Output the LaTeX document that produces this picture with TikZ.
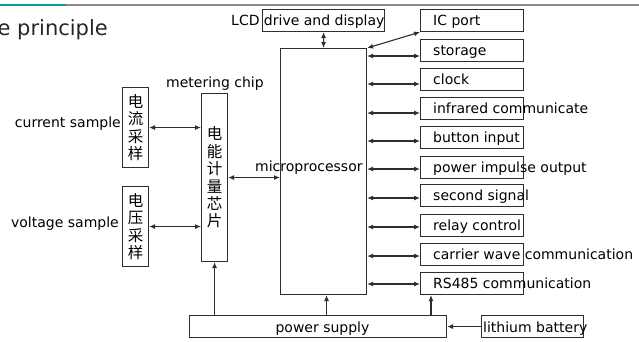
\documentclass[tikz,border=0pt]{standalone}
\usepackage{fontspec}
\setmainfont{DejaVu Sans}
\newfontfamily\cjk{Noto Sans CJK SC}
\usetikzlibrary{arrows.meta,calc}
\definecolor{tealtop}{HTML}{12988F}
\definecolor{graytop}{HTML}{8A8A8A}
\definecolor{ink}{HTML}{2E2E2E}
\begin{document}
\begin{tikzpicture}[x=1bp,y=-1bp,
  box/.style={draw=ink, line width=1.1bp, inner sep=0pt, rectangle, anchor=north west},
  txt/.style={inner sep=0pt, text=black, font=\fontsize{14bp}{16bp}\selectfont},
  cn/.style={inner sep=0pt, align=center, text=black, font=\cjk\fontsize{15.5bp}{17.4bp}\selectfont},
  dbl/.style={draw=ink, line width=1.1bp, {Latex[length=6bp,width=5bp]}-{Latex[length=6bp,width=5bp]}},
  one/.style={draw=ink, line width=1.1bp, -{Latex[length=6bp,width=5bp]}}]
\useasboundingbox (0,0) rectangle (639,341);
% top rule
\draw[tealtop, line width=2bp] (0,4.5) -- (66,4.5);
\draw[graytop, line width=2bp] (66,4.5) -- (639,4.5);
\node[inner sep=0pt, anchor=base east, text=black!85, font=\fontsize{21bp}{24bp}\selectfont] (title) at (108,35) {e principle};
% main blocks
\node[box, minimum width=86bp, minimum height=246bp] (micro) at (280,48) {};
\node[txt, anchor=base west] (microt) at (255,171) {microprocessor};
\node[box, minimum width=122bp, minimum height=22bp] (lcd) at (262,9) {};
\node[txt, anchor=base west] (lcdt) at (231,25) {LCD drive and display};
\node[box, minimum width=26bp, minimum height=168bp] (meter) at (201,93) {};
\node[cn] (metert) at (meter.center) {电\\能\\计\\量\\芯\\片};
\node[txt, anchor=base west] (meterl) at (166,87) {metering chip};
\node[box, minimum width=26bp, minimum height=80bp] (cur) at (122,87) {};
\node[cn] (curt) at (cur.center) {电\\流\\采\\样};
\node[txt, anchor=base east] (curl) at (121,127) {current sample};
\node[box, minimum width=26bp, minimum height=80bp] (vol) at (122,186) {};
\node[cn] (volt) at (vol.center) {电\\压\\采\\样};
\node[txt, anchor=base east] (voll) at (119,227) {voltage sample};
\node[box, minimum width=257bp, minimum height=22bp] (ps) at (189,315) {};
\node[txt, anchor=base] (pst) at (322.5,332) {power supply};
\node[box, minimum width=102bp, minimum height=22bp] (bat) at (481,315) {};
\node[txt, anchor=base west] (batt) at (483,332) {lithium battery};
% right column
\foreach \n/\t/\lab in {ic/9/IC port, sto/39/storage, clk/68/clock, ir/97/infrared communicate, btn/126/button input, pio/156/power impulse output, sec/184/second signal, rel/214/relay control, car/243/carrier wave communication, rs/272/RS485 communication}{
  \node[box, minimum width=103bp, minimum height=22bp] (\n) at (420,\t) {};
  \node[txt, anchor=base west] (\n t) at (433,\t+16) {\lab};
}
\foreach \n/\ay in {sto/56, clk/84, ir/113, btn/141, pio/169, sec/198, rel/227, car/256, rs/284}{
  \coordinate (r\n) at (0,\ay);
  \draw[dbl] (micro.east |- r\n) -- (\n.west |- r\n);
}
% connectors
\draw[dbl] (micro.north east) -- (ic.south west);
\draw[dbl] (lcd.south) -- (micro.north);
\draw[dbl] (cur.east) -- (cur.east -| meter.west);
\draw[dbl] (vol.east) -- (vol.east -| meter.west);
\draw[dbl] (meter.east) -- (meter.east -| micro.west);
\draw[one] (ps.north -| meter.south) -- (meter.south);
\coordinate (mp) at ([xshift=3bp]micro.south);
\draw[one] (ps.north -| mp) -- (mp);
\coordinate (rp) at ([xshift=11bp]rs.south west);
\draw[one] (ps.north -| rp) -- (rp);
\draw[one] (bat.west) -- (bat.west -| ps.east);
\end{tikzpicture}
\end{document}
